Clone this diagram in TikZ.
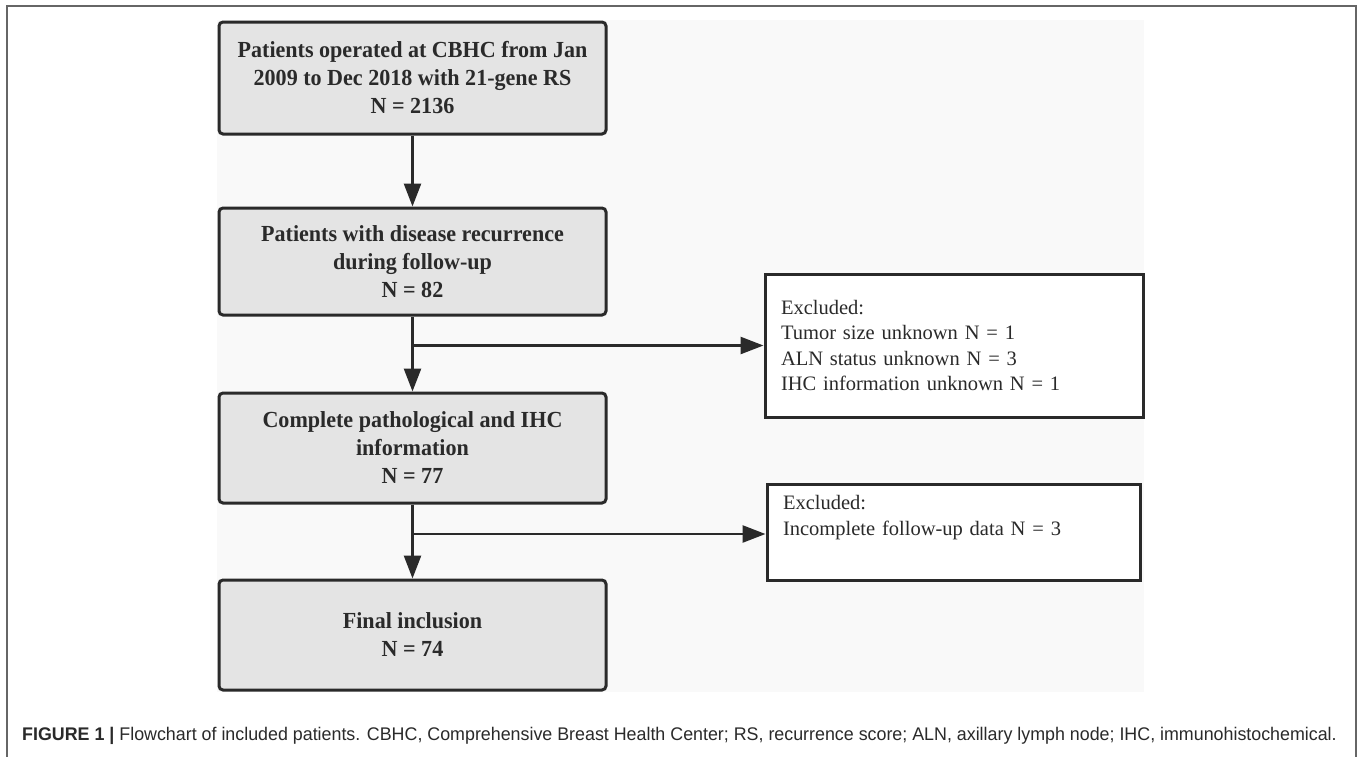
\documentclass[tikz,border=0pt]{standalone}
\usepackage{fontspec}
\setmainfont{Liberation Serif}
\newfontfamily\boxfont[FakeStretch=0.96]{Liberation Serif}
\newfontfamily\capfont[FakeStretch=0.975]{Liberation Sans}
\usetikzlibrary{arrows.meta}
\definecolor{boxfill}{HTML}{E4E4E4}
\definecolor{bgfill}{HTML}{F9F9F9}
\definecolor{ink}{HTML}{2A2A2A}
\definecolor{frameclr}{HTML}{666666}
\begin{document}
\begin{tikzpicture}[x=1pt,y=-1pt,
  mainbox/.style={draw=ink,line width=3pt,fill=boxfill,rounded corners=4pt,
    minimum width=387pt,align=center,text=ink,
    font=\boxfont\bfseries\fontsize{23}{28}\selectfont},
  exbox/.style={draw=ink,line width=3pt,fill=white,align=left,text=ink,
    inner sep=0pt,font=\fontsize{20.5}{25.5}\selectfont},
  conn/.style={draw=ink,line width=2.6pt,-{Triangle[length=23pt,width=17pt]}}]
\useasboundingbox (0,0) rectangle (1360,756);
\fill[white] (0,0) rectangle (1360,756);
\fill[bgfill] (217,20) rectangle (1144,692);
\draw[frameclr,line width=1.5pt] (7,760) -- (7,6) -- (1356,6) -- (1356,760);

\node[mainbox,minimum height=112pt] (b1) at (412.5,78)
  {Patients operated at CBHC from Jan\\2009 to Dec 2018 with 21-gene RS\\N = 2136};
\node[mainbox,minimum height=107pt] (b2) at (412.5,261.5)
  {Patients with disease recurrence\\during follow-up\\N = 82};
\node[mainbox,minimum height=110pt] (b3) at (412.5,448)
  {Complete pathological and IHC\\information\\N = 77};
\node[mainbox,minimum height=110pt] (b4) at (412.5,635)
  {Final inclusion\\N = 74};

\node[exbox,minimum width=378pt,minimum height=143pt,text width=346pt] (e1) at (954,345.5)
  {Excluded:\\Tumor size unknown N = 1\\ALN status unknown N = 3\\IHC information unknown N = 1};
\node[exbox,minimum width=373pt,minimum height=96pt,text width=341pt] (e2) at (953.5,532)
  {Excluded:\\Incomplete follow-up data N = 3\\\strut};

\coordinate (j1) at (412.5,345.5);
\coordinate (j2) at (412.5,534);

\draw[conn] (b1) -- (b2);
\draw[conn] (b2) -- (b3);
\draw[conn] (b3) -- (b4);
\draw[conn] (j1) -- (e1.west);
\draw[conn] (j2) -- (j2 -| e2.west);

\node[anchor=west,text=ink,inner sep=0pt] (cap) at (22,736)
  {\capfont\fontsize{18.3}{22}\selectfont\textbf{FIGURE 1} \textbf{|} Flowchart of included patients. CBHC, Comprehensive Breast Health Center; RS, recurrence score; ALN, axillary lymph node; IHC, immunohistochemical.};
\end{tikzpicture}
\end{document}
